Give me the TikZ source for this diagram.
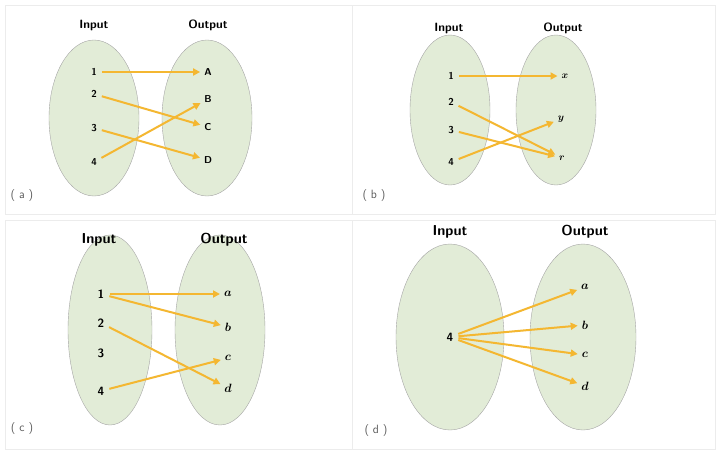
\documentclass[tikz,border=0pt]{standalone}
\usepackage{amsmath,amssymb,bm}
\usetikzlibrary{arrows.meta,shapes.geometric}
\definecolor{setfill}{HTML}{E2ECD7}
\definecolor{maparrow}{HTML}{F4B731}
\tikzset{
    set/.style={ellipse,draw=gray!70,fill=setfill,thin,inner sep=0pt},
    head/.style={font=\sffamily\bfseries\large},
    elem/.style={font=\sffamily\bfseries\normalsize,inner sep=1pt},
    tag/.style={font=\sffamily\large,text=gray!70!black},
    map/.style={draw=maparrow,line width=2pt,-{Triangle[length=7pt,width=7pt]},shorten <=4pt,shorten >=3pt},
    panel/.style={draw=gray!15,thin}
}
\begin{document}
\begin{tikzpicture}[x=1pt,y=-1pt]
    \useasboundingbox (0,0) rectangle (720,456);
    \fill[white] (0,0) rectangle (720,456);
    \draw[panel] (5,5) rectangle (352,214);
    \draw[panel] (352,5) rectangle (715,214);
    \draw[panel] (5,220) rectangle (352,449);
    \draw[panel] (352,220) rectangle (715,449);

    % (a)
    \node[set,minimum width=90,minimum height=156] (ina) at (94,118) {};
    \node[set,minimum width=90,minimum height=156] (outa) at (207,118) {};
    \node[head] (hia) at (94,25) {Input};
    \node[head] (hoa) at (208,25) {Output};
    \foreach \n/\y in {1/72,2/94,3/128,4/162}
        \node[elem] (a\n) at (94,\y) {\n};
    \foreach \n/\y in {A/72,B/99,C/127,D/160}
        \node[elem] (a\n) at (208,\y) {\n};
    \draw[map] (a1) -- (aA);
    \draw[map] (a2) -- (aC);
    \draw[map] (a3) -- (aD);
    \draw[map] (a4) -- (aB);
    \node[tag] (ta) at (22,195) {( a )};

    % (b)
    \node[set,minimum width=80,minimum height=150] (inb) at (450,110) {};
    \node[set,minimum width=80,minimum height=150] (outb) at (556,110) {};
    \node[head] (hib) at (449,28) {Input};
    \node[head] (hob) at (563,28) {Output};
    \foreach \n/\y in {1/76,2/102,3/130,4/162}
        \node[elem] (b\n) at (451,\y) {\n};
    \node[elem] (bx) at (565,76) {$\bm{x}$};
    \node[elem] (by) at (561,119) {$\bm{y}$};
    \node[elem] (br) at (562,158) {$\bm{r}$};
    \draw[map] (b1) -- (bx);
    \draw[map] (b2) -- (br);
    \draw[map] (b3) -- (br);
    \draw[map] (b4) -- (by);
    \node[tag] (tb) at (374,195) {( b )};

    % (c)
    \node[set,minimum width=84,minimum height=190] (inc) at (110,330) {};
    \node[set,minimum width=90,minimum height=190] (outc) at (220,330) {};
    \node[head,font=\sffamily\bfseries\Large] (hic) at (99,240) {Input};
    \node[head,font=\sffamily\bfseries\Large] (hoc) at (224,240) {Output};
    \foreach \n/\y in {1/294,2/323,3/353,4/391}
        \node[elem,font=\sffamily\bfseries\large] (c\n) at (101,\y) {\n};
    \foreach \n/\y in {a/294,b/327,c/358,d/388}
        \node[elem,font=\large] (c\n) at (228,\y) {$\bm{\n}$};
    \draw[map] (c1) -- (ca);
    \draw[map] (c1) -- (cb);
    \draw[map] (c2) -- (cd);
    \draw[map] (c4) -- (cc);
    \node[tag] (tc) at (22,428) {( c )};

    % (d)
    \node[set,minimum width=108,minimum height=186] (ind) at (450,337) {};
    \node[set,minimum width=106,minimum height=186] (outd) at (583,337) {};
    \node[head,font=\sffamily\bfseries\Large] (hid) at (450,232) {Input};
    \node[head,font=\sffamily\bfseries\Large] (hod) at (585,232) {Output};
    \node[elem,font=\sffamily\bfseries\large] (d4) at (450,337) {4};
    \foreach \n/\y in {a/287,b/325,c/355,d/386}
        {\node[elem,font=\large] (d\n) at (585,\y) {$\bm{\n}$};
         \draw[map] (d4) -- (d\n);}
    \node[tag] (td) at (376,430) {( d )};
\end{tikzpicture}
\end{document}
